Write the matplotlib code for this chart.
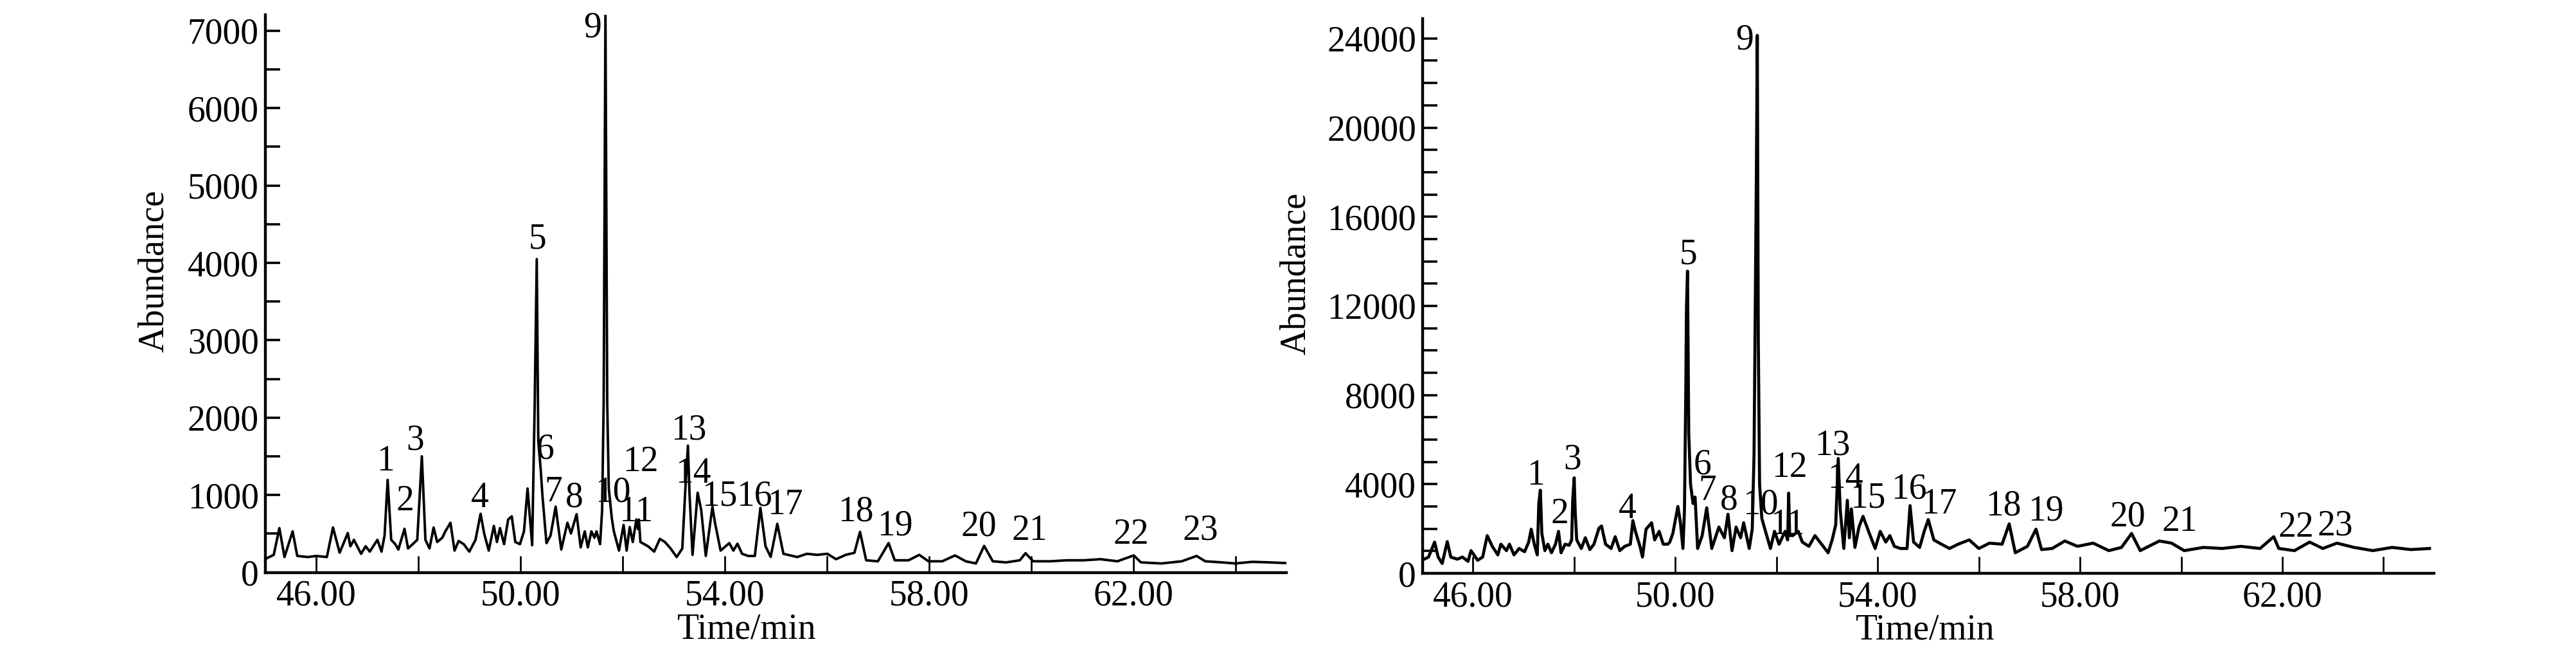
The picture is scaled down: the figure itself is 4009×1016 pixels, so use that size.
import matplotlib.pyplot as plt
from matplotlib.ticker import FixedLocator, MultipleLocator, FormatStrFormatter

plt.rcParams['font.family'] = ['Liberation Serif', 'DejaVu Serif']
plt.rcParams['font.size'] = 40

# left chromatogram: retention time (min) and abundance
left_time = [45.04, 45.17, 45.28, 45.38, 45.54, 45.63, 45.84, 46.00, 46.21, 46.33,
             46.46, 46.62, 46.67, 46.74, 46.88, 46.97, 47.05, 47.20, 47.28, 47.34,
             47.40, 47.47, 47.55, 47.61, 47.73, 47.80, 47.89, 47.98, 48.07, 48.14,
             48.22, 48.30, 48.37, 48.47, 48.53, 48.63, 48.71, 48.79, 48.89, 49.00,
             49.12, 49.22, 49.29, 49.38, 49.48, 49.54, 49.60, 49.68, 49.76, 49.83,
             49.90, 49.99, 50.07, 50.14, 50.23, 50.28, 50.32, 50.35, 50.40, 50.43,
             50.51, 50.59, 50.69, 50.80, 50.92, 50.99, 51.10, 51.18, 51.26, 51.32,
             51.39, 51.45, 51.49, 51.56, 51.60, 51.63, 51.665, 51.70, 51.73, 51.79,
             51.83, 51.93, 52.02, 52.08, 52.14, 52.20, 52.27, 52.30, 52.32, 52.35,
             52.50, 52.62, 52.73, 52.83, 52.94, 53.06, 53.17, 53.23, 53.28, 53.31,
             53.37, 53.47, 53.54, 53.63, 53.76, 53.81, 53.92, 54.09, 54.17, 54.25,
             54.34, 54.46, 54.59, 54.70, 54.80, 54.90, 55.03, 55.15, 55.42, 55.61,
             55.81, 56.01, 56.18, 56.37, 56.54, 56.65, 56.77, 57.00, 57.21, 57.33,
             57.60, 57.81, 57.99, 58.26, 58.51, 58.72, 58.92, 59.08, 59.25, 59.51,
             59.78, 59.89, 60.04, 60.37, 60.70, 61.03, 61.36, 61.69, 62.01, 62.15,
             62.55, 62.95, 63.24, 63.41, 63.74, 64.00, 64.33, 64.66, 64.99]
left_abund = [184, 226, 572, 198, 530, 212, 198, 212, 198, 580,
              254, 508, 337, 420, 240, 337, 268, 420, 268, 475,
              1195, 420, 364, 295, 563, 309, 364, 420, 1500, 420,
              309, 580, 392, 447, 530, 641, 281, 406, 364, 268,
              420, 757, 503, 281, 600, 392, 572, 364, 683, 724,
              392, 364, 530, 1084, 350, 2191, 4050, 1693, 1306, 1001,
              378, 475, 849, 295, 641, 503, 752, 323, 530, 323,
              530, 447, 530, 364, 807, 2191, 7220, 2191, 1084, 696,
              530, 281, 613, 281, 586, 392, 683, 560, 683, 392,
              337, 268, 433, 392, 309, 198, 309, 1084, 1638, 1029,
              226, 1029, 807, 212, 849, 641, 281, 378, 281, 370,
              240, 212, 212, 834, 337, 200, 627, 240, 198, 240,
              226, 240, 170, 226, 253, 524, 156, 143, 378, 156,
              156, 226, 143, 143, 219, 143, 115, 342, 143, 129,
              156, 248, 143, 143, 156, 156, 170, 143, 219, 129,
              115, 143, 212, 143, 129, 115, 136, 129, 120]

# right chromatogram
right_time = [44.99, 45.12, 45.24, 45.31, 45.39, 45.49, 45.56, 45.69, 45.79, 45.90,
              45.96, 46.09, 46.19, 46.28, 46.38, 46.49, 46.55, 46.66, 46.72, 46.81,
              46.91, 47.02, 47.10, 47.15, 47.21, 47.27, 47.30, 47.33, 47.36, 47.42,
              47.48, 47.55, 47.63, 47.69, 47.74, 47.82, 47.90, 47.95, 47.97, 48.00,
              48.02, 48.05, 48.14, 48.22, 48.31, 48.39, 48.49, 48.54, 48.62, 48.73,
              48.81, 48.90, 49.00, 49.11, 49.16, 49.21, 49.30, 49.35, 49.42, 49.53,
              49.59, 49.68, 49.76, 49.85, 49.89, 49.95, 50.00, 50.05, 50.10, 50.15,
              50.18, 50.205, 50.22, 50.24, 50.265, 50.30, 50.35, 50.39, 50.44, 50.53,
              50.62, 50.72, 50.86, 50.97, 51.04, 51.12, 51.20, 51.29, 51.35, 51.46,
              51.52, 51.555, 51.60, 51.62, 51.64, 51.665, 51.71, 51.77, 51.88, 51.96,
              52.05, 52.17, 52.22, 52.24, 52.26, 52.32, 52.43, 52.51, 52.64, 52.76,
              52.89, 53.02, 53.10, 53.17, 53.22, 53.26, 53.33, 53.40, 53.44, 53.48,
              53.55, 53.63, 53.71, 53.82, 53.95, 54.05, 54.16, 54.24, 54.33, 54.45,
              54.58, 54.64, 54.71, 54.83, 54.92, 55.00, 55.11, 55.26, 55.42, 55.59,
              55.81, 56.00, 56.21, 56.46, 56.60, 56.72, 56.96, 57.13, 57.24, 57.45,
              57.70, 57.95, 58.26, 58.57, 58.82, 59.02, 59.19, 59.57, 59.81, 60.06,
              60.44, 60.81, 61.18, 61.56, 61.83, 61.93, 62.24, 62.54, 62.80, 63.08,
              63.42, 63.79, 64.17, 64.54, 64.91]
right_abund = [586, 731, 1403, 731, 442, 1423, 731, 634, 731, 538,
               1019, 586, 731, 1692, 1211, 827, 1307, 1019, 1307, 827,
               1115, 971, 1403, 1980, 1307, 827, 3134, 3730, 1788, 1019,
               1307, 923, 1307, 1884, 923, 1307, 1259, 1500, 3278, 4287,
               2749, 1500, 1115, 1596, 1067, 1307, 2028, 2124, 1307, 1115,
               1644, 1019, 1211, 1307, 2365, 1884, 1211, 731, 1980, 2269,
               1500, 1884, 1307, 1307, 1403, 1788, 2400, 3000, 2269, 1115,
               2845, 7990, 11970, 13560, 6258, 3999, 3134, 3422, 1115, 1692,
               2942, 1115, 2076, 1596, 2653, 1019, 2076, 1596, 2269, 1115,
               1980, 5300, 17500, 24140, 10390, 3999, 2461, 1980, 1115, 1884,
               1307, 1884, 1500, 3600, 1700, 1692, 1884, 1403, 1211, 1692,
               1307, 923, 1500, 2173, 5153, 2845, 1115, 3278, 1596, 2894,
               1163, 2076, 2557, 1884, 1115, 1884, 1403, 1692, 1211, 1115,
               1115, 3038, 1403, 1163, 1884, 2413, 1500, 1307, 1115, 1307,
               1500, 1115, 1355, 1307, 2221, 923, 1211, 1980, 1067, 1115,
               1452, 1211, 1355, 1019, 1163, 1788, 1019, 1452, 1355, 1019,
               1163, 1115, 1211, 1115, 1644, 1115, 1019, 1403, 1115, 1355,
               1163, 1019, 1163, 1067, 1115]

peak_names = ['1', '2', '3', '4', '5', '6', '7', '8', '9', '10', '11', '12',
              '13', '14', '15', '16', '17', '18', '19', '20', '21', '22', '23']
left_label_time = [47.36, 47.74, 47.94, 49.21, 50.33, 50.49, 50.65, 51.06, 51.41,
                   51.81, 52.27, 52.35, 53.29, 53.39, 53.90, 54.58, 55.18, 56.57,
                   57.34, 58.97, 59.97, 61.96, 63.31]
left_label_abund = [1433, 917, 1707, 960, 4306, 1584, 1034, 967, 7040,
                    1027, 777, 1425, 1840, 1275, 984, 984, 868, 777,
                    602, 586, 535, 486, 544]
right_label_time = [47.24, 47.72, 47.97, 49.05, 50.25, 50.53, 50.63, 51.06, 51.37,
                    51.68, 52.22, 52.26, 53.10, 53.36, 53.81, 54.62, 55.21, 56.49,
                    57.32, 58.94, 59.97, 62.27, 63.05]
right_label_abund = [4383, 2653, 5105, 2894, 14305, 4864, 3691, 3278, 23937,
                     3086, 2173, 4720, 5729, 4239, 3374, 3759, 3086, 3018,
                     2797, 2538, 2317, 2057, 2124]

time_labelled = [46, 50, 54, 58, 62]
time_between = [48, 52, 56, 60, 64]


def draw_panel(ax, t, a, lt, la, ymax, ystep, yminor, lw, xlab_x, ylab_x):
    ax.plot(t, a, color='black', lw=lw)
    for name, x, y in zip(peak_names, lt, la):
        ax.text(x, y, name, ha='center', va='center')
    ax.set_xlim(45, 65)
    ax.set_ylim(0, ymax)
    for s in ['top', 'right']:
        ax.spines[s].set_visible(False)
    for s in ['left', 'bottom']:
        ax.spines[s].set_linewidth(3.2)
    # labelled ticks every 4 min, plain ticks in between
    ax.xaxis.set_major_locator(FixedLocator(time_labelled))
    ax.xaxis.set_minor_locator(FixedLocator(time_between))
    ax.xaxis.set_major_formatter(FormatStrFormatter('%.2f'))
    ax.yaxis.set_major_locator(MultipleLocator(ystep))
    ax.yaxis.set_minor_locator(MultipleLocator(yminor))
    ax.tick_params(axis='x', which='both', direction='in', length=19, width=2, pad=8)
    ax.tick_params(axis='y', which='both', direction='in', length=16.5, width=2.6, pad=7)
    ax.set_xlabel('Time/min', va='center')
    ax.xaxis.set_label_coords(xlab_x, -0.102)
    ax.set_ylabel('Abundance', va='center')
    ax.yaxis.set_label_coords(ylab_x, 0.54)


fig = plt.figure(figsize=(40.09, 10.16), dpi=100)
ax1 = fig.add_axes([0.1029, 0.1235, 0.3965, 0.8542])
ax2 = fig.add_axes([0.5522, 0.1220, 0.3927, 0.8495])

draw_panel(ax1, left_time, left_abund, left_label_time, left_label_abund,
           7210, 1000, 500, 2.8, 0.4715, -0.1085)
draw_panel(ax2, right_time, right_abund, right_label_time, right_label_abund,
           24890, 4000, 1000, 3.4, 0.497, -0.125)

fig.savefig('out.png', dpi=100, facecolor='white')
